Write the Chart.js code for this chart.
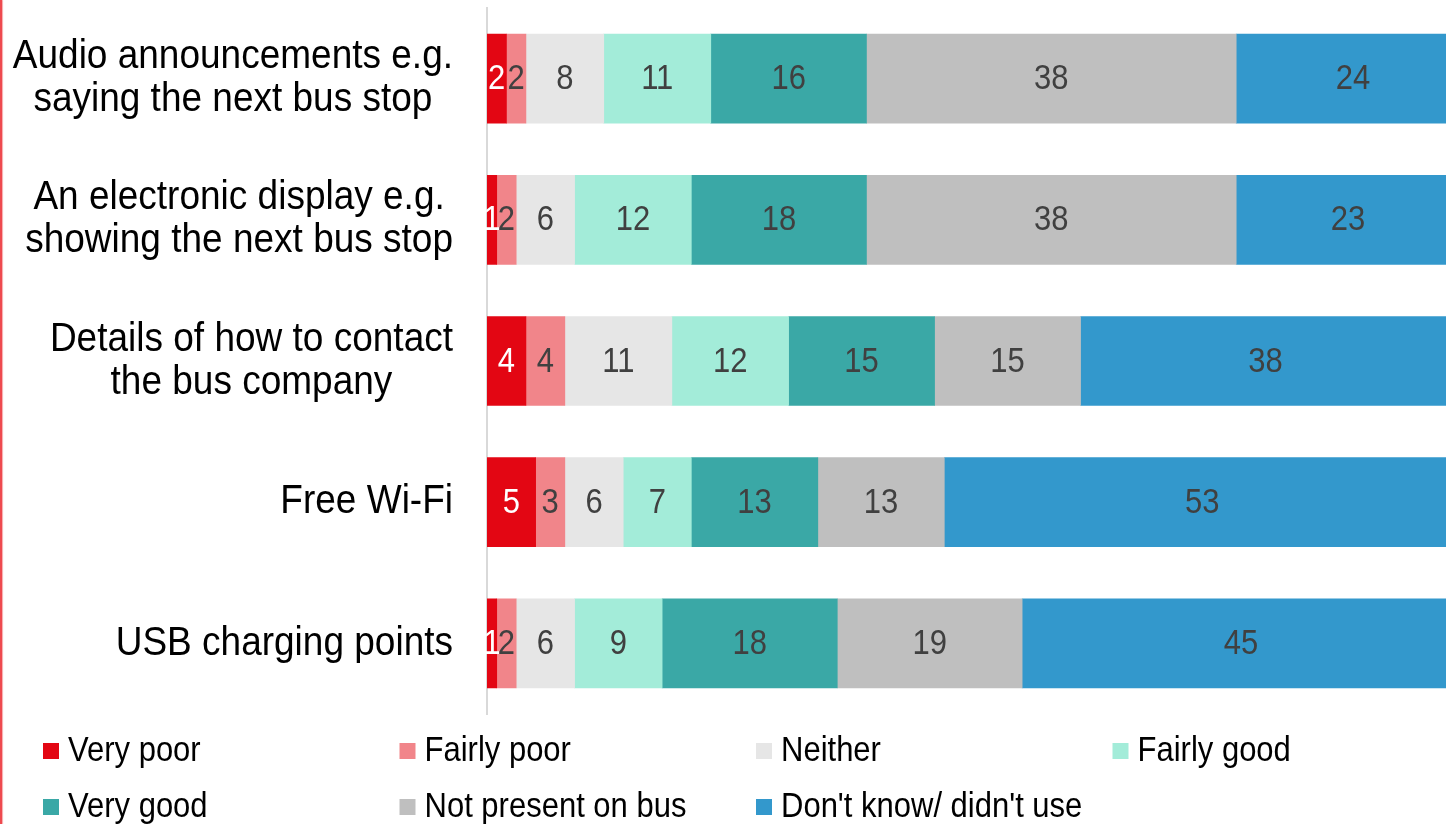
<!DOCTYPE html>
<html>
<head>
<meta charset="utf-8">
<script src="https://cdn.jsdelivr.net/npm/chart.js@4"></script>
<style>
  html, body { margin: 0; padding: 0; background: #fff; overflow: hidden; }
  #wrap { position: relative; width: 1460px; height: 824px; }
  #edge { position: absolute; left: 0; top: 0; width: 2px; height: 824px; background: #ee4a4f; box-shadow: 1px 0 1px #f7a9ab; z-index: 2; }
</style>
</head>
<body>
<div id="wrap">
  <div id="edge"></div>
  <canvas id="chart" width="1460" height="824"></canvas>
</div>
<script>
const categories = [
    ['Audio announcements e.g.', 'saying the next bus stop'],
    ['An electronic display e.g.', 'showing the next bus stop'],
    ['Details of how to contact', 'the bus company'],
    ['Free Wi-Fi'],
    ['USB charging points']
];

const seriesNames = ['Very poor', 'Fairly poor', 'Neither', 'Fairly good', 'Very good', 'Not present on bus', "Don't know/ didn't use"];
const seriesColors = ['#e30613', '#f1858a', '#e6e6e6', '#a3ecd9', '#3aa8a6', '#bfbfbf', '#3398cc'];

const veryPoor   = [2, 1, 4, 5, 1];
const fairlyPoor = [2, 2, 4, 3, 2];
const neither    = [8, 6, 11, 6, 6];
const fairlyGood = [11, 12, 12, 7, 9];
const veryGood   = [16, 18, 15, 13, 18];
const notPresent = [38, 38, 15, 13, 19];
const dontKnow   = [24, 23, 38, 53, 45];

const seriesValues = [veryPoor, fairlyPoor, neither, fairlyGood, veryGood, notPresent, dontKnow];

const FONT = "'Liberation Sans', Arial, sans-serif";

// the source text is a bit taller than wide, so stretch it vertically
function tallText(ctx, text, x, y, sy) {
    ctx.save();
    ctx.translate(x, y);
    ctx.scale(1, sy);
    ctx.fillText(text, 0, 0);
    ctx.restore();
}

// category labels: block right-aligned, lines centered inside the block
const catLabels = {
    id: 'catLabels',
    afterDraw(chart) {
        const ctx = chart.ctx;
        const yScale = chart.scales.y;
        ctx.save();
        ctx.font = '37px ' + FONT;
        ctx.fillStyle = '#000';
        ctx.textAlign = 'center';
        ctx.textBaseline = 'middle';
        const right = 453;
        const lineH = 43;
        categories.forEach((lines, i) => {
            const y = yScale.getPixelForTick(i);
            const w = Math.max(...lines.map(l => ctx.measureText(l).width));
            const cx = right - w / 2;
            lines.forEach((l, j) => {
                tallText(ctx, l, cx, y + (j - (lines.length - 1) / 2) * lineH, 1.09);
            });
        });
        ctx.restore();
    }
};

const valueLabels = {
    id: 'valueLabels',
    afterDatasetsDraw(chart) {
        const ctx = chart.ctx;
        ctx.save();
        ctx.font = '31px ' + FONT;
        ctx.textAlign = 'center';
        ctx.textBaseline = 'middle';
        chart.data.datasets.forEach((ds, di) => {
            const meta = chart.getDatasetMeta(di);
            ctx.fillStyle = di === 0 ? '#ffffff' : '#404040';
            meta.data.forEach((bar, i) => {
                const p = bar.getProps(['x', 'y', 'base'], true);
                tallText(ctx, String(ds.data[i]), (p.x + p.base) / 2, p.y + 1, 1.13);
            });
        });
        ctx.restore();
    }
};

const bottomLegend = {
    id: 'bottomLegend',
    afterDraw(chart) {
        const ctx = chart.ctx;
        ctx.save();
        ctx.font = '31px ' + FONT;
        ctx.textAlign = 'left';
        ctx.textBaseline = 'middle';
        chart.data.datasets.forEach((ds, i) => {
            const x = 43 + (i % 4) * 356.5;
            const y = 751 + Math.floor(i / 4) * 56;
            ctx.fillStyle = ds.backgroundColor;
            ctx.fillRect(x, y - 8, 16, 16);
            ctx.fillStyle = '#000';
            tallText(ctx, ds.label, x + 25, y, 1.13);
        });
        ctx.restore();
    }
};

const ctx = document.getElementById('chart').getContext('2d');

new Chart(ctx, {
    type: 'bar',
    data: {
        labels: categories,
        datasets: seriesNames.map((name, i) => ({
            label: name,
            data: seriesValues[i],
            backgroundColor: seriesColors[i],
            borderWidth: 0,
            barThickness: 89
        }))
    },
    options: {
        indexAxis: 'y',
        responsive: false,
        animation: false,
        events: [],
        layout: {
            padding: { left: 487, top: 8, bottom: 110, right: 0 }
        },
        plugins: {
            legend: { display: false },
            tooltip: { enabled: false }
        },
        scales: {
            x: {
                stacked: true,
                min: 0,
                max: 100,
                display: false
            },
            y: {
                stacked: true,
                ticks: { display: false },
                grid: { display: false, drawTicks: false },
                border: { display: true, color: '#d9d9d9', width: 2 }
            }
        }
    },
    plugins: [catLabels, valueLabels, bottomLegend]
});
</script>
</body>
</html>
